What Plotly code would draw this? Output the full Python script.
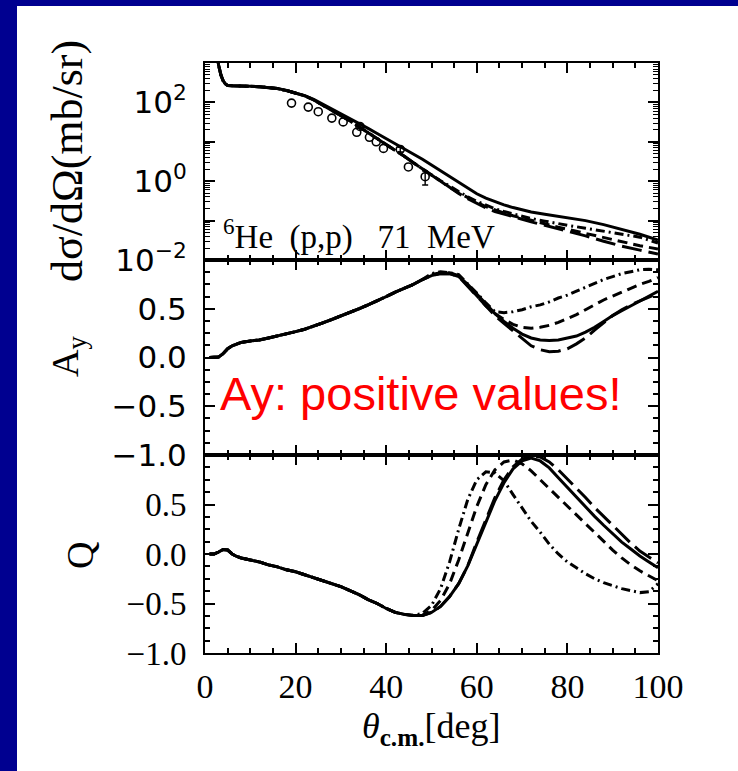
import plotly.graph_objects as go

# ---------------- data ----------------
# Scattering angle grid for the calculated cross sections [deg]
theta_xs = [2, 2.5, 3, 3.5, 4, 4.5, 5, 6, 8, 10, 12, 14, 16, 18, 20, 22, 24, 26, 28, 30,
            32, 34, 36, 38, 40, 42, 44, 46, 48, 50, 52, 54, 56, 58, 60, 62, 64, 66, 68, 70,
            72, 75, 78, 80, 84, 88, 92, 96, 100]

# Differential cross section dsigma/dOmega [mb/sr] for four calculations
xs_solid = [5012, 1995, 891, 501, 355, 295, 269, 263, 263, 257, 251, 240, 224, 200, 174, 148,
            120, 91, 69, 52.5, 38.9, 29.5, 21.9, 16.2, 12.0, 8.9, 6.8, 5.1, 3.6, 2.57, 1.82,
            1.29, 0.91, 0.65, 0.48, 0.37, 0.30, 0.25, 0.214, 0.186, 0.166, 0.145, 0.129,
            0.120, 0.100, 0.079, 0.060, 0.045, 0.032]
xs_longdash = [5012, 1995, 891, 501, 355, 295, 269, 263, 263, 257, 251, 240, 224, 200, 174, 148,
               115, 85, 63, 47.9, 33.9, 24.0, 17.0, 12.3, 8.9, 6.2, 4.27, 2.95, 2.04, 1.41, 0.98,
               0.68, 0.49, 0.36, 0.27, 0.21, 0.17, 0.145, 0.125, 0.108, 0.093, 0.076, 0.062,
               0.054, 0.041, 0.030, 0.0224, 0.0178, 0.0141]
xs_shortdash = [5012, 1995, 891, 501, 355, 295, 269, 263, 263, 257, 251, 240, 224, 200, 174, 148,
                115, 85, 63, 47.9, 33.9, 24.0, 17.0, 12.3, 8.9, 6.2, 4.27, 2.95, 2.04, 1.41, 1.0,
                0.70, 0.51, 0.38, 0.29, 0.225, 0.185, 0.155, 0.133, 0.115, 0.1, 0.083, 0.068,
                0.060, 0.048, 0.037, 0.029, 0.023, 0.019]
xs_dashdot = [5012, 1995, 891, 501, 355, 295, 269, 263, 263, 257, 251, 240, 224, 200, 174, 148,
              115, 85, 63, 47.9, 33.9, 24.0, 17.0, 12.3, 8.9, 6.2, 4.27, 2.95, 2.04, 1.45, 1.03,
              0.74, 0.54, 0.40, 0.31, 0.245, 0.2, 0.17, 0.147, 0.128, 0.113, 0.097, 0.083,
              0.076, 0.064, 0.054, 0.047, 0.038, 0.027]

# Measured cross sections [mb/sr]
theta_exp = [19.1, 22.8, 25.0, 28.0, 30.5, 33.5, 34.2, 36.3, 37.8, 39.4, 43.1, 44.9, 48.6]
xs_exp = [96, 76, 58, 40, 32, 17.4, 24.5, 13.0, 10.0, 6.8, 6.4, 2.3, 1.3]
# points whose uncertainty reaches beyond the marker
theta_exp_err = [43.1, 48.6]
xs_exp_err = [6.4, 1.3]
xs_err = [0.9, 0.5]

# Analyzing power A_y and spin-rotation Q
theta_pol = [1, 2, 3, 4, 5, 6, 7, 8, 10, 12, 14, 16, 18, 20, 22, 24, 26, 28, 30, 32, 34, 36,
             38, 40, 42, 44, 46, 48, 50, 52, 54, 56, 58, 60, 62, 64, 66, 68, 70, 72, 74, 76,
             78, 80, 82, 84, 86, 88, 90, 92, 94, 96, 98, 100]

ay_solid = [0.0, 0.0, 0.005, 0.04, 0.09, 0.12, 0.14, 0.155, 0.17, 0.18, 0.2, 0.22, 0.24, 0.265,
            0.29, 0.32, 0.355, 0.39, 0.425, 0.46, 0.5, 0.54, 0.58, 0.625, 0.67, 0.71, 0.75,
            0.8, 0.84, 0.86, 0.86, 0.83, 0.75, 0.65, 0.55, 0.45, 0.37, 0.3, 0.24, 0.2, 0.18,
            0.175, 0.18, 0.2, 0.22, 0.26, 0.31, 0.37, 0.43, 0.48, 0.53, 0.58, 0.63, 0.68]
ay_longdash = [0.0, 0.0, 0.005, 0.04, 0.09, 0.12, 0.14, 0.155, 0.17, 0.18, 0.2, 0.22, 0.24, 0.265,
               0.29, 0.32, 0.355, 0.39, 0.425, 0.46, 0.5, 0.54, 0.58, 0.625, 0.67, 0.71, 0.75,
               0.8, 0.84, 0.86, 0.86, 0.83, 0.73, 0.62, 0.52, 0.43, 0.35, 0.27, 0.19, 0.12, 0.08,
               0.06, 0.065, 0.09, 0.14, 0.2, 0.28, 0.36, 0.43, 0.49, 0.54, 0.58, 0.62, 0.66]
ay_shortdash = [0.0, 0.0, 0.005, 0.04, 0.09, 0.12, 0.14, 0.155, 0.17, 0.18, 0.2, 0.22, 0.24, 0.265,
                0.29, 0.32, 0.355, 0.39, 0.425, 0.46, 0.5, 0.54, 0.58, 0.625, 0.67, 0.71, 0.75,
                0.8, 0.85, 0.87, 0.87, 0.84, 0.74, 0.63, 0.53, 0.45, 0.39, 0.34, 0.31, 0.3, 0.31,
                0.33, 0.36, 0.4, 0.44, 0.49, 0.54, 0.59, 0.63, 0.67, 0.71, 0.75, 0.78, 0.82]
ay_dashdot = [0.0, 0.0, 0.005, 0.04, 0.09, 0.12, 0.14, 0.155, 0.17, 0.18, 0.2, 0.22, 0.24, 0.265,
              0.29, 0.32, 0.355, 0.39, 0.425, 0.46, 0.5, 0.54, 0.58, 0.625, 0.67, 0.71, 0.75,
              0.8, 0.86, 0.88, 0.87, 0.85, 0.76, 0.66, 0.56, 0.47, 0.46, 0.47, 0.49, 0.52, 0.54,
              0.57, 0.61, 0.64, 0.68, 0.72, 0.76, 0.8, 0.83, 0.86, 0.88, 0.9, 0.905, 0.9]

q_solid = [0.0, 0.0, 0.02, 0.045, 0.04, 0.0, -0.025, -0.04, -0.06, -0.08, -0.11, -0.13, -0.16,
           -0.18, -0.21, -0.24, -0.27, -0.3, -0.33, -0.37, -0.41, -0.46, -0.5, -0.55, -0.59,
           -0.61, -0.62, -0.62, -0.59, -0.53, -0.43, -0.3, -0.12, 0.1, 0.32, 0.54, 0.72, 0.86,
           0.94, 0.97, 0.94, 0.87, 0.77, 0.67, 0.57, 0.48, 0.38, 0.29, 0.2, 0.12, 0.05, -0.02,
           -0.08, -0.14]
q_longdash = [0.0, 0.0, 0.02, 0.045, 0.04, 0.0, -0.025, -0.04, -0.06, -0.08, -0.11, -0.13, -0.16,
              -0.18, -0.21, -0.24, -0.27, -0.3, -0.33, -0.37, -0.41, -0.46, -0.5, -0.55, -0.59,
              -0.61, -0.62, -0.62, -0.59, -0.53, -0.43, -0.3, -0.12, 0.12, 0.35, 0.57, 0.75,
              0.88, 0.96, 0.99, 0.98, 0.93, 0.85, 0.76, 0.67, 0.57, 0.47, 0.38, 0.28, 0.19, 0.11,
              0.03, -0.03, -0.09]
q_shortdash = [0.0, 0.0, 0.02, 0.045, 0.04, 0.0, -0.025, -0.04, -0.06, -0.08, -0.11, -0.13, -0.16,
               -0.18, -0.21, -0.24, -0.27, -0.3, -0.33, -0.37, -0.41, -0.46, -0.5, -0.55, -0.59,
               -0.61, -0.62, -0.62, -0.57, -0.47, -0.3, -0.06, 0.22, 0.48, 0.7, 0.85, 0.93,
               0.95, 0.91, 0.84, 0.75, 0.66, 0.57, 0.48, 0.39, 0.3, 0.21, 0.12, 0.04, -0.04,
               -0.11, -0.17, -0.22, -0.27]
q_dashdot = [0.0, 0.0, 0.02, 0.045, 0.04, 0.0, -0.025, -0.04, -0.06, -0.08, -0.11, -0.13, -0.16,
             -0.18, -0.21, -0.24, -0.27, -0.3, -0.33, -0.37, -0.41, -0.46, -0.5, -0.55, -0.59,
             -0.61, -0.62, -0.6, -0.52, -0.35, -0.08, 0.25, 0.55, 0.75, 0.83, 0.82, 0.74, 0.6,
             0.46, 0.33, 0.22, 0.1, 0.0, -0.08, -0.14, -0.2, -0.25, -0.29, -0.32, -0.35, -0.37,
             -0.39, -0.38, -0.3]

# tick labels
xs_tickvals = [0.01, 0.1, 1, 10, 100, 1000]
xs_ticktext = ["10<sup>\u22122</sup>", "", "10<sup>0</sup>", "", "10<sup>2</sup>", ""]
pol_tickvals = [-1.0, -0.5, 0.0, 0.5, 1.0]
pol_ticktext = ["\u22121.0", "\u22120.5", "0.0", "0.5", ""]
theta_tickvals = [0, 20, 40, 60, 80, 100]

# ---------------- layout helpers ----------------
W, H = 738, 771
L, R, T, B = 205, 658, 63, 653          # plot frame in pixels


def px(xp):
    return (xp - L) / (R - L)


def py(yp):
    return (B - yp) / (B - T)


SERIF = "Liberation Serif"
SANS = "DejaVu Sans"
LW = 3.0
styles = [("solid", None), ("longdash", "20px,7px"), ("shortdash", "10px,6px"),
          ("dashdot", "9px,4px,2px,4px")]

fig = go.Figure()

# cross section curves
for (name, dash), ys in zip(styles, [xs_solid, xs_longdash, xs_shortdash, xs_dashdot]):
    fig.add_trace(go.Scatter(x=theta_xs, y=ys, mode="lines", xaxis="x", yaxis="y",
                             line=dict(color="black", width=LW, dash=dash or "solid"),
                             showlegend=False))
# error bars, then open circles for the data
fig.add_trace(go.Scatter(x=theta_exp_err, y=xs_exp_err, mode="markers", xaxis="x", yaxis="y",
                         marker=dict(size=1, color="rgba(0,0,0,0)"),
                         error_y=dict(type="data", array=xs_err, color="black",
                                      thickness=1.4, width=3),
                         showlegend=False))
fig.add_trace(go.Scatter(x=theta_exp, y=xs_exp, mode="markers", xaxis="x", yaxis="y",
                         marker=dict(symbol="circle-open", size=8, color="black",
                                     line=dict(width=1.6, color="black")),
                         showlegend=False))

for (name, dash), ys in zip(styles, [ay_solid, ay_longdash, ay_shortdash, ay_dashdot]):
    fig.add_trace(go.Scatter(x=theta_pol, y=ys, mode="lines", xaxis="x2", yaxis="y2",
                             line=dict(color="black", width=LW, dash=dash or "solid"),
                             showlegend=False))

for (name, dash), ys in zip(styles, [q_solid, q_longdash, q_shortdash, q_dashdot]):
    fig.add_trace(go.Scatter(x=theta_pol, y=ys, mode="lines", xaxis="x3", yaxis="y3",
                             line=dict(color="black", width=LW, dash=dash or "solid"),
                             showlegend=False))

d_top = [py(260), 1.0]
d_mid = [py(455), py(260)]
d_bot = [0.0, py(455)]

common_x = dict(range=[0, 100], showline=True, linecolor="black", linewidth=2, mirror="allticks",
                ticks="inside", ticklen=10, tickwidth=2, tickcolor="black",
                tickmode="array", tickvals=theta_tickvals, showgrid=False, zeroline=False,
                minor=dict(ticks="inside", ticklen=5, tickwidth=1.5, tickcolor="black",
                           tickmode="linear", tick0=0, dtick=5, showgrid=False))

common_pol_y = dict(range=[-1, 1], showline=True, linecolor="black", linewidth=2,
                    mirror="allticks", ticks="inside", ticklen=10, tickwidth=2,
                    tickcolor="black", tickmode="array", tickvals=pol_tickvals,
                    ticktext=pol_ticktext, showgrid=False, zeroline=False,
                    minor=dict(ticks="inside", ticklen=5, tickwidth=1.5, tickcolor="black",
                               tickmode="linear", tick0=0, dtick=0.125, showgrid=False))

fig.update_layout(
    width=W, height=H,
    margin=dict(l=L, r=W - R, t=T, b=H - B, pad=0),
    paper_bgcolor="white", plot_bgcolor="white",
    showlegend=False,
    xaxis=dict(domain=[0, 1], anchor="y", showticklabels=False, **common_x),
    xaxis2=dict(domain=[0, 1], anchor="y2", matches="x", showticklabels=False, **common_x),
    xaxis3=dict(domain=[0, 1], anchor="y3", matches="x", showticklabels=True,
                tickfont=dict(family=SERIF, size=34, color="black"), ticklabelstandoff=2,
                **common_x),
    yaxis=dict(domain=d_top, anchor="x", type="log", range=[-2, 3], showline=True,
               linecolor="black", linewidth=2, mirror="allticks", ticks="inside", ticklen=10,
               tickwidth=2, tickcolor="black", tickmode="array", tickvals=xs_tickvals,
               ticktext=xs_ticktext, showgrid=False, zeroline=False,
               tickfont=dict(family=SANS, size=31, color="black"),
               ticklabelstandoff=10,
               minor=dict(ticks="inside", ticklen=5, tickwidth=1.2, tickcolor="black",
                          dtick="D1", showgrid=False)),
    yaxis2=dict(domain=d_mid, anchor="x2",
                tickfont=dict(family=SANS, size=31, color="black"),
                ticklabelstandoff=10, **common_pol_y),
    yaxis3=dict(domain=d_bot, anchor="x3",
                tickfont=dict(family=SERIF, size=33, color="black"),
                ticklabelstandoff=10, **common_pol_y),
)

# slide background: blue strips along the left and top edges
BLUE = "#000090"
fig.add_shape(type="rect", xref="paper", yref="paper", x0=px(0), x1=px(17), y0=py(H), y1=py(0),
              fillcolor=BLUE, line=dict(width=0), layer="below")
fig.add_shape(type="rect", xref="paper", yref="paper", x0=px(0), x1=px(W), y0=py(6), y1=py(0),
              fillcolor=BLUE, line=dict(width=0), layer="below")

ann = []
# axis titles
ann.append(dict(text="d\u03c3/d\u03a9(mb/sr)", x=px(67), y=py(161), textangle=-90,
                font=dict(family=SERIF, size=44, color="black")))
ann.append(dict(text="A<sub>y</sub>", x=px(68), y=py(357), textangle=-90,
                font=dict(family=SERIF, size=38, color="black")))
ann.append(dict(text="Q", x=px(80), y=py(555), textangle=-90,
                font=dict(family=SERIF, size=38, color="black")))
ann.append(dict(text="<i>\u03b8</i><sub><b>c.m.</b></sub>[deg]", x=px(431), y=py(728),
                font=dict(family=SERIF, size=36, color="black")))
# reaction label inside the cross-section panel
ann.append(dict(text="<sup>6</sup>He\u00a0\u00a0(p,p)\u00a0\u00a0\u00a071\u00a0\u00a0MeV",
                x=px(221), y=py(234), xanchor="left",
                font=dict(family=SERIF, size=33, color="black")))
# highlighted remark
ann.append(dict(text="Ay: positive values!", x=px(218), y=py(393), xanchor="left",
                font=dict(family="Liberation Sans", size=47, color="#ff0000")))

for a in ann:
    a.setdefault("xanchor", "center")
    a.setdefault("yanchor", "middle")
    fig.add_annotation(xref="paper", yref="paper", showarrow=False, **a)

fig.write_html("out.html")
